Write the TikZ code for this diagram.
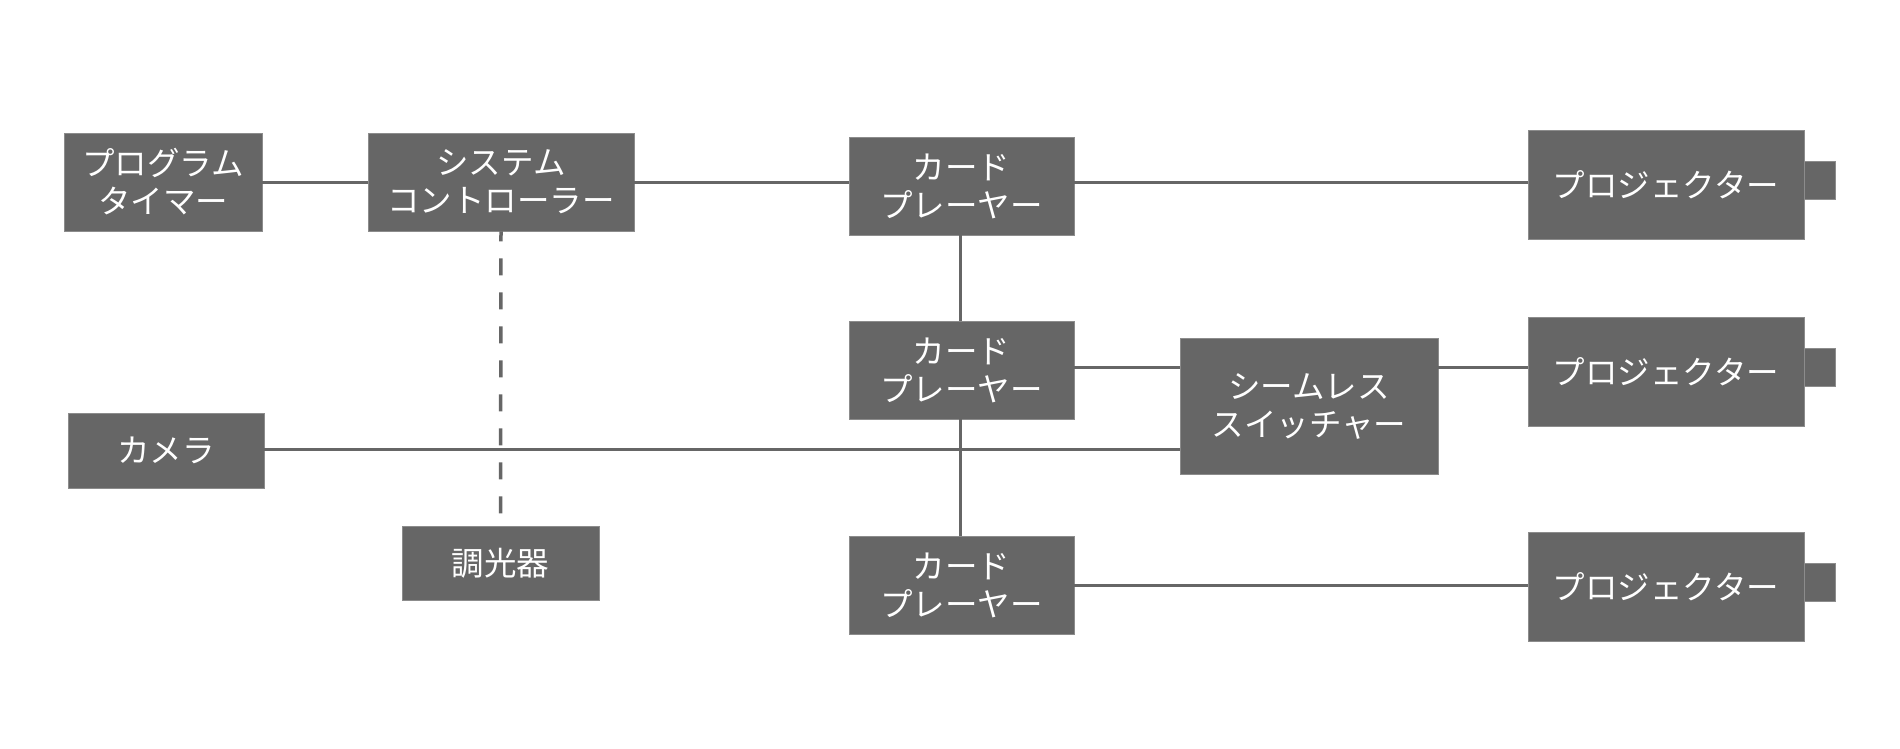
\documentclass[tikz,border=0pt]{standalone}
\usepackage{fontspec}
\newfontfamily\jp{Noto Sans CJK JP}
\definecolor{boxgray}{HTML}{666666}
\definecolor{edgegray}{HTML}{8C8C8C}
\begin{document}
\begin{tikzpicture}[x=1pt,y=-1pt,
  box/.style={fill=boxgray, draw=edgegray, line width=0.8pt, text=white, inner sep=0pt, align=center,
    font=\jp\fontsize{32.5}{38}\selectfont},
  wire/.style={draw=boxgray, line width=3pt},
  dwire/.style={draw=boxgray, line width=3.5pt, dash pattern=on 17pt off 17pt, dash phase=7pt},
  bump/.style={fill=boxgray, draw=edgegray, line width=0.8pt}]
\useasboundingbox (0,0) rectangle (1900,748);
\fill[white] (0,0) rectangle (1900,748);

\coordinate (yA) at (0,182);
\coordinate (yB) at (0,367);
\coordinate (yC) at (0,449);
\coordinate (yD) at (0,585);

% bumps behind projector boxes
\draw[bump] (1800,161) rectangle (1835,199);
\draw[bump] (1800,348) rectangle (1835,386);
\draw[bump] (1800,563) rectangle (1835,601);

\node[box, minimum width=198pt, minimum height=98pt] (timer) at (163,182) {プログラム\\タイマー};
\node[box, minimum width=266pt, minimum height=98pt] (sys) at (501,182) {システム\\コントローラー};
\node[box, minimum width=225pt, minimum height=98pt] (card1) at (961.5,186) {カード\\プレーヤー};
\node[box, minimum width=276pt, minimum height=109pt] (proj1) at (1666,184.5) {プロジェクター};
\node[box, minimum width=225pt, minimum height=98pt] (card2) at (961.5,370) {カード\\プレーヤー};
\node[box, minimum width=258pt, minimum height=136pt] (sw) at (1309,406) {シームレス\\スイッチャー};
\node[box, minimum width=276pt, minimum height=109pt] (proj2) at (1666,371.5) {プロジェクター};
\node[box, minimum width=196pt, minimum height=75pt] (cam) at (166,450.5) {カメラ};
\node[box, minimum width=197pt, minimum height=74pt] (dim) at (500.5,563) {調光器};
\node[box, minimum width=225pt, minimum height=98pt] (card3) at (961.5,585) {カード\\プレーヤー};
\node[box, minimum width=276pt, minimum height=109pt] (proj3) at (1666,586.5) {プロジェクター};

% connectors
\draw[wire] (timer.east |- yA) -- (sys.west |- yA);
\draw[wire] (sys.east |- yA) -- (card1.west |- yA);
\draw[wire] (card1.east |- yA) -- (proj1.west |- yA);
\draw[wire] ([xshift=-1.5pt]card1.south) -- ([xshift=-1.5pt]card2.north);
\draw[wire] ([xshift=-1.5pt]card2.south) -- ([xshift=-1.5pt]card3.north);
\draw[wire] (card2.east |- yB) -- (sw.west |- yB);
\draw[wire] (sw.east |- yB) -- (proj2.west |- yB);
\draw[wire] (cam.east |- yC) -- (sw.west |- yC);
\draw[wire] (card3.east |- yD) -- (proj3.west |- yD);
\draw[dwire] (sys.south) -- (dim.north);
\end{tikzpicture}
\end{document}
